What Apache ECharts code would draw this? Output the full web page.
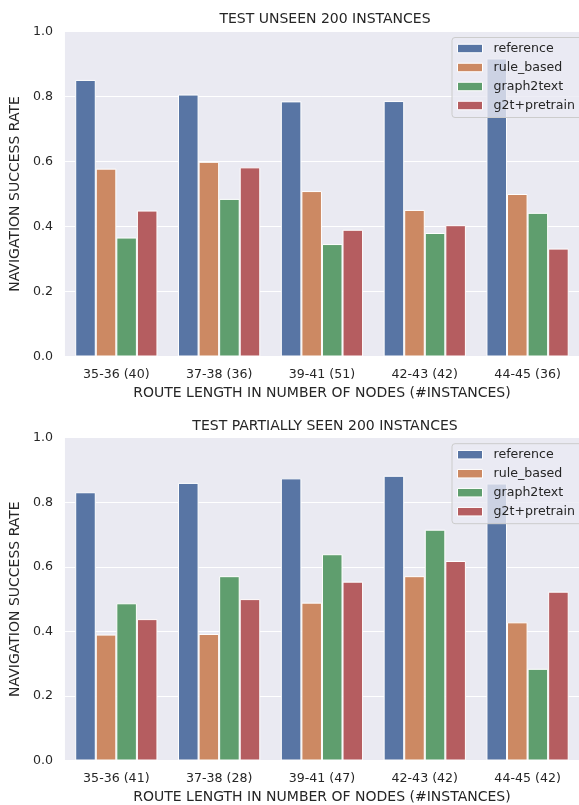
<!DOCTYPE html>
<html>
<head>
<meta charset="utf-8">
<script src="https://cdn.jsdelivr.net/npm/echarts@6/dist/echarts.min.js"></script>
<style>
  html, body { margin: 0; padding: 0; background: #ffffff; }
  #chart { width: 579px; height: 805px; }
</style>
</head>
<body>
<div id="chart"></div>
<script>
// Route-length buckets (number of instances in parentheses)
const unseenCategories = ['35-36 (40)', '37-38 (36)', '39-41 (51)', '42-43 (42)', '44-45 (36)'];
const partialCategories = ['35-36 (41)', '37-38 (28)', '39-41 (47)', '42-43 (42)', '44-45 (42)'];

const seriesNames = ['reference', 'rule_based', 'graph2text', 'g2t+pretrain'];

// Navigation success rate, test unseen split
const unseenReference = [0.851, 0.806, 0.785, 0.786, 0.917];
const unseenRuleBased = [0.578, 0.599, 0.509, 0.451, 0.500];
const unseenGraph2text = [0.366, 0.485, 0.346, 0.380, 0.442];
const unseenG2tPretrain = [0.449, 0.582, 0.390, 0.404, 0.332];

// Navigation success rate, test partially seen split
const partialReference = [0.831, 0.860, 0.874, 0.882, 0.858];
const partialRuleBased = [0.390, 0.392, 0.489, 0.571, 0.428];
const partialGraph2text = [0.487, 0.571, 0.639, 0.715, 0.284];
const partialG2tPretrain = [0.438, 0.500, 0.554, 0.618, 0.523];

const yTicks = [0.0, 0.2, 0.4, 0.6, 0.8, 1.0];

const colors = ['#5875a4', '#cc8963', '#5f9e6e', '#b55d60'];
const FONT = 'DejaVu Sans';
const TEXT = '#262626';

const chart = echarts.init(document.getElementById('chart'), null, { renderer: 'canvas' });

const grids = [
  { left: 63, top: 31.5, width: 525.5, height: 325 },
  { left: 63, top: 437.7, width: 525.5, height: 325 }
];

function xAxis(idx, cats) {
  return {
    type: 'category', gridIndex: idx, data: cats,
    axisLine: { show: false }, axisTick: { show: false },
    axisLabel: { color: TEXT, fontFamily: FONT, fontSize: 12.6, margin: 11.5 },
    splitLine: { show: false },
    name: 'ROUTE LENGTH IN NUMBER OF NODES (#INSTANCES)',
    nameLocation: 'middle', nameGap: 29.5,
    nameTextStyle: { color: TEXT, fontFamily: FONT, fontSize: 14 }
  };
}

function yAxis(idx) {
  return {
    type: 'value', gridIndex: idx, min: yTicks[0], max: yTicks[yTicks.length - 1], interval: 0.2,
    axisLine: { show: false }, axisTick: { show: false },
    axisLabel: { color: TEXT, fontFamily: FONT, fontSize: 12.6, margin: 12,
      formatter: v => v.toFixed(1) },
    splitLine: { lineStyle: { color: '#ffffff', width: 1 } },
    name: 'NAVIGATION SUCCESS RATE',
    nameLocation: 'middle', nameGap: 35,
    nameTextStyle: { color: TEXT, fontFamily: FONT, fontSize: 14 }
  };
}

function barSeries(idx, valuesList) {
  return valuesList.map((vals, i) => ({
    type: 'bar', name: seriesNames[i], xAxisIndex: idx, yAxisIndex: idx,
    data: vals, barGap: '0%', barCategoryGap: '20%',
    itemStyle: { color: colors[i], borderColor: '#ffffff', borderWidth: 1 },
    emphasis: { disabled: true },
    animation: false
  }));
}

function legend(top) {
  return {
    orient: 'vertical', left: 452, top: top,
    data: seriesNames, icon: 'rect', itemWidth: 25, itemHeight: 8.5, itemGap: 5,
    padding: [4, 10, 5, 5],
    backgroundColor: 'rgba(234,234,242,0.8)', borderColor: '#cccccc', borderWidth: 1, borderRadius: 3,
    textStyle: { color: TEXT, fontFamily: FONT, fontSize: 12.6, lineHeight: 14, padding: [0, 0, 0, 6] },
    itemStyle: { borderColor: '#ffffff', borderWidth: 1 },
    selectedMode: false
  };
}

const option = {
  backgroundColor: '#ffffff',
  color: colors,
  animation: false,
  title: [
    { text: 'TEST UNSEEN 200 INSTANCES', left: 325, top: 12.5, textAlign: 'center', padding: 0,
      textStyle: { color: TEXT, fontFamily: FONT, fontSize: 14, fontWeight: 'normal' } },
    { text: 'TEST PARTIALLY SEEN 200 INSTANCES', left: 325, top: 419, textAlign: 'center', padding: 0,
      textStyle: { color: TEXT, fontFamily: FONT, fontSize: 14, fontWeight: 'normal' } }
  ],
  grid: grids.map(g => Object.assign({ show: true, backgroundColor: '#eaeaf2', borderWidth: 0, containLabel: false }, g)),
  legend: [legend(37.5), legend(443.7)],
  xAxis: [xAxis(0, unseenCategories), xAxis(1, partialCategories)],
  yAxis: [yAxis(0), yAxis(1)],
  series: [
    ...barSeries(0, [unseenReference, unseenRuleBased, unseenGraph2text, unseenG2tPretrain]),
    ...barSeries(1, [partialReference, partialRuleBased, partialGraph2text, partialG2tPretrain])
  ]
};

chart.setOption(option);
</script>
</body>
</html>
